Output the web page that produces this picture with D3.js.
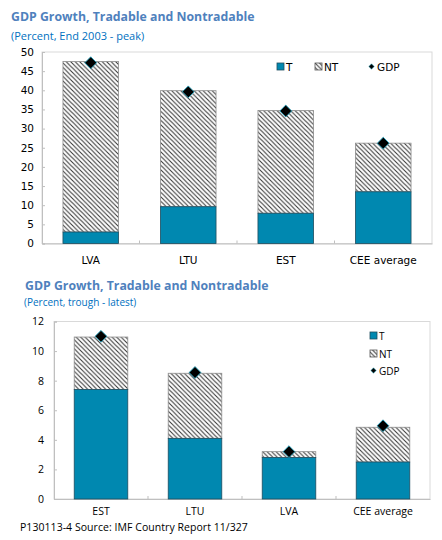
<!DOCTYPE html>
<html><head><meta charset="utf-8">
<script src="https://cdn.jsdelivr.net/npm/d3@7"></script>
<style>body{margin:0;background:#fff}svg{display:block}</style>
</head><body>
<svg id="c" width="442" height="540"></svg>
<script>
// Chart 1: End 2003 - peak
const cats1 = ["LVA", "LTU", "EST", "CEE average"];
const t1 = [3.0, 9.6, 7.9, 13.5];
const nt1 = [44.5, 30.3, 26.8, 12.7];
const gdp1 = [47.2, 39.6, 34.6, 26.2];
const ticks1 = [0, 5, 10, 15, 20, 25, 30, 35, 40, 45, 50];

// Chart 2: trough - latest
const cats2 = ["EST", "LTU", "LVA", "CEE average"];
const t2 = [7.4, 4.1, 2.8, 2.5];
const nt2 = [3.55, 4.4, 0.4, 2.35];
const gdp2 = [11.0, 8.55, 3.2, 4.95];
const ticks2 = [0, 2, 4, 6, 8, 10, 12];

const svg = d3.select("#c");
const TEAL = "#0088b0";
const defs = svg.append("defs");
const P = 4.5;
const pat = defs.append("pattern").attr("id","hatch").attr("patternUnits","userSpaceOnUse")
  .attr("width",P).attr("height",P);
pat.append("rect").attr("width",P).attr("height",P).attr("fill","#fff");
pat.append("path").attr("d",`M-1,-1 L${P+1},${P+1} M-1,${P-1} L1,${P+1} M${P-1},-1 L${P+1},1`).attr("stroke","#333").attr("stroke-width",1.05);

function drawChart(o) {
  const g = svg.append("g");
  const x = d3.scaleBand().domain(o.cats).range([o.x0, o.x1]).paddingInner(o.pad).paddingOuter(o.pad/2);
  const y = d3.scaleLinear().domain([0, o.ymax]).range([o.y1, o.y0]);
  g.append("rect").attr("x", o.x0).attr("y", o.y0).attr("width", o.x1-o.x0).attr("height", o.y1-o.y0)
    .attr("fill","none").attr("stroke","#d9d9d9");
  const ya = g.append("g").attr("transform",`translate(${o.x0},0)`)
    .call(d3.axisLeft(y).tickValues(o.ticks).tickSize(-3).tickPadding(o.tpad));
  ya.select(".domain").attr("stroke","#bfbfbf");
  ya.selectAll(".tick line").attr("stroke","#bfbfbf");
  ya.selectAll("text").attr("font-family",o.tfont).attr("font-size",o.tsize).attr("fill","#000");
  const xa = g.append("g").attr("transform",`translate(0,${o.y1})`)
    .call(d3.axisBottom(x).tickSize(0).tickPadding(o.xpad));
  xa.select(".domain").attr("stroke","#bfbfbf");
  xa.selectAll("text").attr("font-family",o.tfont).attr("font-size",o.tsize).attr("fill","#000");
  const step = x.step();
  g.selectAll(".bt").data(o.cats.slice(1)).enter().append("line")
    .attr("x1", d => x(d) - x.paddingInner()*step/2).attr("x2", d => x(d) - x.paddingInner()*step/2)
    .attr("y1", o.y1).attr("y2", o.y1-3).attr("stroke","#bfbfbf");
  const rows = o.cats.map((c,i)=>({c, t:o.t[i], nt:o.nt[i], gdp:o.gdp[i]}));
  g.selectAll(".nt").data(rows).enter().append("rect")
    .attr("x", d=>x(d.c)).attr("width", x.bandwidth())
    .attr("y", d=>y(d.t+d.nt)).attr("height", d=>y(d.t)-y(d.t+d.nt))
    .attr("fill","url(#hatch)").attr("stroke","#8c8c8c").attr("stroke-width",0.8);
  g.selectAll(".tb").data(rows).enter().append("rect")
    .attr("x", d=>x(d.c)).attr("width", x.bandwidth())
    .attr("y", d=>y(d.t)).attr("height", d=>y(0)-y(d.t))
    .attr("fill",TEAL).attr("stroke","#1f4e5f").attr("stroke-width",0.8);
  g.selectAll(".gd").data(rows).enter().append("path")
    .attr("transform", d=>`translate(${x(d.c)+x.bandwidth()/2},${y(d.gdp)}) rotate(45)`)
    .attr("d", d3.symbol().type(d3.symbolSquare).size(o.dsize))
    .attr("fill","#000").attr("stroke","#1fa3bf").attr("stroke-width",0.8);
  svg.append("text").attr("x",o.titleX).attr("y",o.titleY).text("GDP Growth, Tradable and Nontradable")
    .attr("font-family","Open Sans, Lato, sans-serif").attr("font-weight","bold").attr("font-size",12.3).attr("fill","#4f81bd");
  svg.append("text").attr("x",o.subX).attr("y",o.subY).text(o.sub)
    .attr("font-family","Open Sans, Lato, sans-serif").attr("font-size",o.subSize).attr("fill","#0070c0");
}

drawChart({cats:cats1, t:t1, nt:nt1, gdp:gdp1, ticks:ticks1, ymax:50,
  x0:42, x1:432, y0:52, y1:243.5, pad:0.43, tpad:8, xpad:13, tfont:"DejaVu Sans, sans-serif", tsize:10.5,
  dsize:70, titleX:11, titleY:21, subX:11, subY:40, subSize:11, sub:"(Percent, End 2003  - peak)"});

drawChart({cats:cats2, t:t2, nt:nt2, gdp:gdp2, ticks:ticks2, ymax:12,
  x0:54, x1:430, y0:321.5, y1:499, pad:0.43, tpad:10, xpad:9, tfont:"Open Sans, Lato, sans-serif", tsize:10.5,
  dsize:70, titleX:25, titleY:290, subX:24, subY:306, subSize:10, sub:"(Percent, trough - latest)"});

function legendItem(kind, x, y, label, font, size) {
  const g = svg.append("g");
  if (kind==="T") g.append("rect").attr("x",x).attr("y",y-4).attr("width",7).attr("height",7).attr("fill",TEAL).attr("stroke","#1f4e5f").attr("stroke-width",0.8);
  else if (kind==="NT") g.append("rect").attr("x",x).attr("y",y-4).attr("width",7).attr("height",7).attr("fill","url(#hatch)").attr("stroke","#555").attr("stroke-width",0.8);
  else g.append("path").attr("transform",`translate(${x+3.5},${y-0.5}) rotate(45)`).attr("d", d3.symbol().type(d3.symbolSquare).size(14)).attr("fill","#000").attr("stroke","#1fa3bf").attr("stroke-width",0.5);
  g.append("text").attr("x",x+9).attr("y",y+4).text(label).attr("font-family",font).attr("font-size",size).attr("fill","#000");
}
const lf1 = "DejaVu Sans, sans-serif";
legendItem("T", 277, 67, "T", lf1, 10.5);
legendItem("NT", 315, 67, "NT", lf1, 10.5);
legendItem("GDP", 368, 67, "GDP", lf1, 10.5);
const lf2 = "Open Sans, Lato, sans-serif";
legendItem("T", 370, 336, "T", lf2, 10);
legendItem("NT", 370, 354, "NT", lf2, 10);
legendItem("GDP", 370, 371, "GDP", lf2, 10);

const foot = svg.append("text").attr("x",20).attr("y",531).text("P130113-4 Source: IMF Country Report 11/327")
  .attr("font-family","Open Sans, Lato, sans-serif").attr("font-size",10.5).attr("fill","#000");
const fw = foot.node().getComputedTextLength();
const nch = foot.text().length;
if (fw < 228) foot.attr("letter-spacing", ((228 - fw) / nch).toFixed(2) + "px");
</script>
</body></html>
